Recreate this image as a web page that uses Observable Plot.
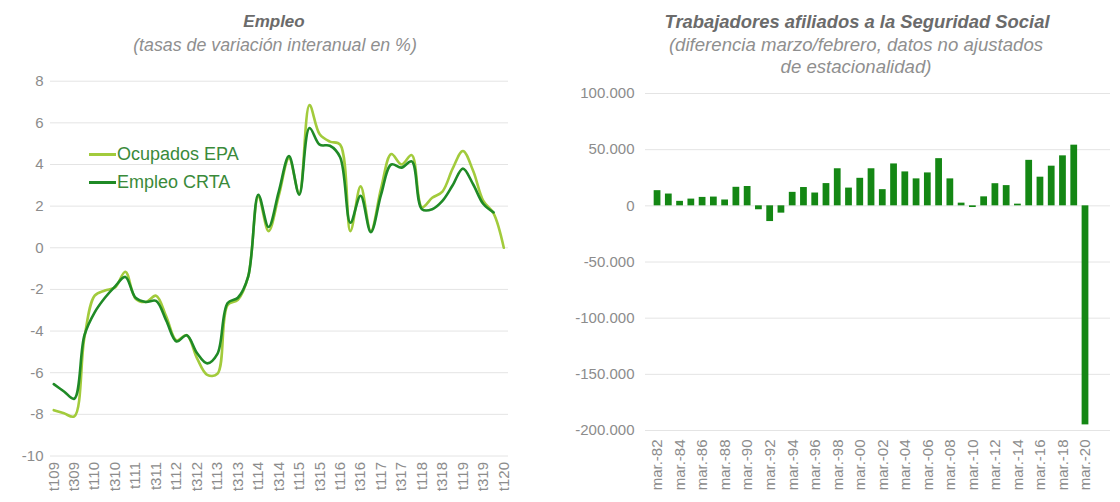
<!DOCTYPE html>
<html>
<head>
<meta charset="utf-8">
<script src="https://cdn.jsdelivr.net/npm/d3@7"></script>
<script src="https://cdn.jsdelivr.net/npm/@observablehq/plot@0.6"></script>
<style>
  body { margin: 0; background: #fff; font-family: "Liberation Sans", Arial, sans-serif; }
  #wrap { position: relative; width: 1120px; height: 502px; overflow: hidden; background: #fff; }
  .t { position: absolute; transform: translateX(-50%); white-space: nowrap; font-style: italic; line-height: 22px; }
  .title { font-weight: bold; color: #6b6b6b; }
  .sub { color: #8f8f8f; }
  .chart { position: absolute; top: 70px; }
  .leg { position: absolute; left: 89px; font-size: 18px; color: #3a8a3a; line-height: 22px; display: flex; align-items: center; }
  .leg span.sw { display: inline-block; width: 27px; height: 3px; margin-right: 1px; }
</style>
</head>
<body>
<div id="wrap">
  <div class="t title" style="left:274px; top:11px; font-size:17px;">Empleo</div>
  <div class="t sub" style="left:275px; top:34px; font-size:17.8px;">(tasas de variación interanual en %)</div>
  <div class="t title" style="left:857px; top:11px; font-size:18.4px;">Trabajadores afiliados a la Seguridad Social</div>
  <div class="t sub" style="left:856px; top:34px; font-size:18.6px;">(diferencia marzo/febrero, datos no ajustados</div>
  <div class="t sub" style="left:856px; top:56px; font-size:18.6px;">de estacionalidad)</div>
  <div id="left" class="chart" style="left:0px;"></div>
  <div id="right" class="chart" style="left:560px;"></div>
  <div class="leg" style="top:143px;"><span class="sw" style="background:#a2cb3c"></span>Ocupados EPA</div>
  <div class="leg" style="top:171px;"><span class="sw" style="background:#1f8a26"></span>Empleo CRTA</div>
</div>
<script>
// ---------- Data: Empleo (quarterly y/y %) ----------
const quarters = [
  "t109","t209","t309","t409","t110","t210","t310","t410",
  "t111","t211","t311","t411","t112","t212","t312","t412",
  "t113","t213","t313","t413","t114","t214","t314","t414",
  "t115","t215","t315","t415","t116","t216","t316","t416",
  "t117","t217","t317","t417","t118","t218","t318","t418",
  "t119","t219","t319","t419","t120"
];
const ocupadosEPA = [
  -7.8, -7.95, -8.1, -4.3, -2.3, -2.05, -1.9, -1.15,
  -2.45, -2.6, -2.3, -3.3, -4.45, -4.2, -5.3, -6.1,
  -6.05, -2.75, -2.5, -1.4, 2.45, 0.8, 2.5, 4.3,
  2.6, 6.85, 5.45, 5.1, 4.95, 0.8, 2.95, 0.8,
  2.85, 4.5, 4.0, 4.45, 1.95, 2.4, 2.7, 3.8,
  4.65, 3.7, 2.25, 1.65, 0.0
];
const empleoCRTA = [
  -6.55, -6.9, -7.25, -4.2, -3.1, -2.4, -1.85, -1.4,
  -2.4, -2.6, -2.55, -3.5, -4.5, -4.2, -5.05, -5.55,
  -5.1, -2.65, -2.4, -1.4, 2.55, 1.0, 2.7, 4.4,
  2.55, 5.75, 4.95, 4.9, 4.35, 1.2, 2.5, 0.75,
  2.55, 4.0, 3.85, 4.15, 1.85, 1.85, 2.25, 3.0,
  3.8, 3.05, 2.1, 1.7, null
];
const empleoTicks = [-10, -8, -6, -4, -2, 0, 2, 4, 6, 8];

// ---------- Data: Afiliados (March minus February) ----------
const years = [
  1982,1983,1984,1985,1986,1987,1988,1989,1990,1991,
  1992,1993,1994,1995,1996,1997,1998,1999,2000,2001,
  2002,2003,2004,2005,2006,2007,2008,2009,2010,2011,
  2012,2013,2014,2015,2016,2017,2018,2019,2020
];
const afiliados = [
  13500, 10500, 4000, 6000, 7500, 7800, 5200, 16500, 17200, -3500,
  -14000, -6500, 12000, 16300, 11400, 19800, 33000, 15800, 24500, 33000,
  14400, 37300, 30200, 24000, 29300, 42000, 24000, 2400, -1500, 8000,
  19700, 18000, 1500, 40500, 25500, 35300, 44500, 54000, -195000
];
const yearTicks = [1982,1984,1986,1988,1990,1992,1994,1996,1998,2000,2002,2004,2006,2008,2010,2012,2014,2016,2018,2020];
const yearTickLabels = ["mar.-82","mar.-84","mar.-86","mar.-88","mar.-90","mar.-92","mar.-94","mar.-96","mar.-98","mar.-00",
  "mar.-02","mar.-04","mar.-06","mar.-08","mar.-10","mar.-12","mar.-14","mar.-16","mar.-18","mar.-20"];
const afilTicks = [-200000, -150000, -100000, -50000, 0, 50000, 100000];

// ---------- Build ----------
const epaRows = quarters.map((q, i) => ({i, v: ocupadosEPA[i]})).filter(d => d.v != null);
const crtaRows = quarters.map((q, i) => ({i, v: empleoCRTA[i]})).filter(d => d.v != null);
const labeledIdx = quarters.map((q, i) => i).filter(i => i % 2 === 0);

const baseStyle = {fontFamily: "'Liberation Sans', Arial, sans-serif", fontSize: "15px", color: "#8c8c8c", background: "transparent", overflow: "visible"};

const left = Plot.plot({
  width: 560, height: 432,
  marginLeft: 50, marginRight: 52, marginTop: 10.7, marginBottom: 46.5,
  style: baseStyle,
  x: {type: "linear", domain: [-0.32, 44.46], axis: null},
  y: {domain: [-10, 8], axis: null},
  marks: [
    Plot.ruleY(empleoTicks, {stroke: "#e4e4e4", strokeWidth: 1}),
    Plot.axisY({ticks: empleoTicks, tickSize: 0, tickPadding: 7, tickFormat: d => String(d), label: null}),
    Plot.axisX({ticks: labeledIdx, tickFormat: i => quarters[i], tickRotate: -90, tickSize: 0, tickPadding: 6, label: null}),
    Plot.line(epaRows, {x: "i", y: "v", stroke: "#a2cb3c", strokeWidth: 2.6, curve: "catmull-rom"}),
    Plot.line(crtaRows, {x: "i", y: "v", stroke: "#1f8a26", strokeWidth: 2.6, curve: "catmull-rom"})
  ]
});
document.getElementById("left").appendChild(left);

const fmtES = d => (d < 0 ? "-" : "") + d3.format(",")(Math.abs(d)).replace(/,/g, ".");
const barRows = years.map((y, k) => ({year: y, v: afiliados[k]}));

const right = Plot.plot({
  width: 560, height: 432,
  marginLeft: 85, marginRight: 10, marginTop: 23, marginBottom: 72,
  style: baseStyle,
  x: {type: "linear", domain: [1980.93, 2022.22], axis: null},
  y: {domain: [-200000, 100000], axis: null},
  marks: [
    Plot.ruleY(afilTicks, {stroke: "#e4e4e4", strokeWidth: 1}),
    Plot.axisY({ticks: afilTicks, tickSize: 0, tickPadding: 11, tickFormat: fmtES, label: null}),
    Plot.axisX({ticks: yearTicks, tickFormat: d => yearTickLabels[yearTicks.indexOf(d)], tickRotate: -90, tickSize: 0, tickPadding: 9, label: null}),
    Plot.rectY(barRows, {x1: d => d.year - 0.3, x2: d => d.year + 0.3, y1: 0, y2: "v", fill: "#148714"})
  ]
});
document.getElementById("right").appendChild(right);
</script>
</body>
</html>
